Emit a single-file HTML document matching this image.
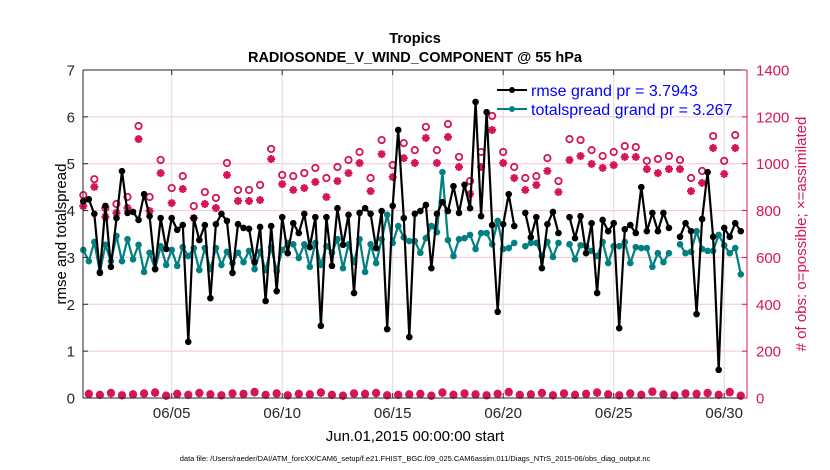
<!DOCTYPE html>
<html><head><meta charset="utf-8"><style>
body{margin:0;background:#fff;}
svg{display:block;font-family:"Liberation Sans",Arial,sans-serif;}
</style></head><body>
<svg id="chart" width="830" height="470" viewBox="0 0 830 470">
<g id="grid"></g>
<g id="series"></g>
<g id="axes"></g>
<text x="415" y="43" text-anchor="middle" font-size="14.5" font-weight="bold">Tropics</text>
<text x="415" y="62" text-anchor="middle" font-size="14.5" font-weight="bold">RADIOSONDE_V_WIND_COMPONENT @ 55 hPa</text>
<text transform="translate(66,234) rotate(-90)" text-anchor="middle" font-size="15">rmse and totalspread</text>
<text transform="translate(806,234) rotate(-90)" text-anchor="middle" font-size="15" fill="#d6145a"># of obs: o=possible; ×=assimilated</text>
<text x="415" y="441" text-anchor="middle" font-size="15">Jun.01,2015 00:00:00 start</text>
<text x="415" y="461" text-anchor="middle" font-size="7.5">data file: /Users/raeder/DAI/ATM_forcXX/CAM6_setup/f.e21.FHIST_BGC.f09_025.CAM6assim.011/Diags_NTrS_2015-06/obs_diag_output.nc</text>
<g>
<line x1="497" y1="90" x2="527" y2="90" stroke="#000" stroke-width="2"/><circle cx="512" cy="90" r="3" fill="#000"/>
<text x="531" y="96" font-size="16" fill="#0000ff">rmse grand pr = 3.7943</text>
<line x1="497" y1="109" x2="527" y2="109" stroke="#008080" stroke-width="2"/><circle cx="512" cy="109" r="3" fill="#008080"/>
<text x="531" y="115" font-size="16" fill="#0000ff">totalspread grand pr = 3.267</text>
</g>
</svg>
<script>
const rmse=[4.2,4.24,3.93,2.67,4.10,2.80,3.84,4.84,3.95,3.97,3.80,4.35,3.88,2.75,3.84,3.18,3.84,3.59,3.69,1.20,3.84,3.37,3.69,2.13,3.71,3.93,3.78,2.67,3.71,3.63,3.61,
2.90,3.65,2.07,3.67,2.28,3.86,3.09,3.73,3.52,3.93,3.22,3.86,1.54,3.86,2.82,4.05,3.27,3.91,2.24,3.95,4.05,3.93,3.20,3.99,1.47,4.10,5.72,3.84,1.30,3.93,
3.99,4.12,2.77,3.93,4.18,3.99,4.52,3.95,4.55,4.05,6.32,3.88,6.10,3.69,1.84,3.71,4.35,3.67,null,3.95,3.43,3.86,2.77,3.71,3.97,3.52,null,3.86,3.41,
3.88,3.09,3.73,2.24,3.80,3.56,3.73,1.49,3.60,3.69,3.52,4.50,3.56,3.95,3.56,3.95,3.63,null,3.44,3.73,3.56,1.79,3.82,4.82,3.44,0.60,3.63,3.44,3.73,3.56];
const spread=[3.16,2.92,3.33,2.69,3.27,2.92,3.46,2.92,3.39,2.96,3.27,2.69,3.10,2.75,3.24,2.84,3.16,2.82,3.22,3.03,3.20,2.73,3.20,2.75,3.20,2.84,3.12,2.88,3.10,2.90,3.14,
2.75,3.12,2.73,3.22,2.71,3.16,3.31,3.28,2.99,3.28,2.80,3.31,2.84,3.24,3.10,3.39,2.77,3.28,2.90,3.39,2.69,3.28,2.88,3.39,3.91,3.31,3.67,3.43,3.35,3.35,
3.10,3.41,3.67,3.54,4.82,3.37,3.03,3.39,3.41,3.48,3.18,3.52,3.52,3.28,3.78,3.18,3.20,3.31,null,3.24,3.31,3.31,3.03,3.33,3.01,3.31,null,3.28,2.96,
3.26,3.24,3.14,3.03,3.33,2.88,3.24,3.24,3.33,2.88,3.22,3.20,3.20,2.80,3.09,2.90,3.09,null,3.28,3.09,3.12,3.56,3.18,3.14,3.14,3.48,3.26,3.09,3.20,2.64];
const possibleMain=[866,934,811,828,858,1161,858,1016,896,947,819,879,854,1003,888,888,
909,1063,952,947,960,982,939,986,1016,1050,939,1101,994,1088,1058,
1157,1058,1169,1029,926,1050,1204,1050,986,939,947,1024,926,1105,
1101,1058,1033,1050,1075,1071,1012,1020,1033,1016,939,969,1118,1012,1122];
const assimMain=[819,901,773,790,811,1105,798,960,832,892,768,828,811,952,841,841,
845,1020,913,888,896,922,858,926,960,1003,883,1041,943,1024,1003,
1110,1003,1114,986,871,986,1144,1003,939,888,909,969,879,1016,
1033,999,982,994,1029,1029,977,960,977,977,883,918,1067,956,1067];
const countLow=[18,14,22,12,16,20,24,10,18,14,22,16,12,20,18,26,14,20,12,18,16,24,14,10,20,18,22,12,14,16,
18,10,24,14,20,16,12,18,26,14,16,22,12,20,14,18,24,16,12,20,14,28,16,12,20,18,22,14,26,10];
const leftTicks=[0,1,2,3,4,5,6,7];
const rightTicks=[0,200,400,600,800,1000,1200,1400];
const dateTicks=[5,10,15,20,25,30];
const dateLabels=["06/05","06/10","06/15","06/20","06/25","06/30"];

const L=83,R=747,T=70,B=398;
const xDay=d=>83.3+(d-1)*22.1;
const xIdx=i=>xDay(1+i*0.25);
const yL=v=>B-(v/7)*(B-T);
const yR=v=>B-(v/1400)*(B-T);
const NS="http://www.w3.org/2000/svg";
function mk(tag,attrs,parent){const e=document.createElementNS(NS,tag);for(const k in attrs)e.setAttribute(k,attrs[k]);parent.appendChild(e);return e;}
const grid=document.getElementById('grid'),ser=document.getElementById('series'),ax=document.getElementById('axes');

rightTicks.forEach(v=>{if(v>0&&v<1400){const g=mk('line',{x1:L,x2:R,y1:yR(v),y2:yR(v),stroke:'#f2c6d6','stroke-width':1},grid);

}});
dateTicks.forEach((d,i)=>{const g=mk('line',{x1:xDay(d),x2:xDay(d),y1:T,y2:B,stroke:'#dcdcdc','stroke-width':1},grid);


const t=mk('text',{x:xDay(d),y:418,'text-anchor':'middle','font-size':15,fill:'#262626'},ax);t.textContent=dateLabels[i];


mk('line',{x1:xDay(d),x2:xDay(d),y1:B,y2:B-5,stroke:'#262626'},ax);
mk('line',{x1:xDay(d),x2:xDay(d),y1:T,y2:T+5,stroke:'#262626'},ax);});

// obs markers
function circle(x,y,name){const c=mk('circle',{cx:x,cy:y,r:3.2,fill:'none',stroke:'#d6145a','stroke-width':1.8},ser);

}
function star(x,y,name){const g=mk('g',{stroke:'#d6145a','stroke-width':2.2},ser);


for(let a=0;a<4;a++){const an=a*Math.PI/4;mk('line',{x1:x-4*Math.cos(an),y1:y-4*Math.sin(an),x2:x+4*Math.cos(an),y2:y+4*Math.sin(an)},g);}}
possibleMain.forEach((v,k)=>circle(xIdx(2*k),yR(v),'obs-possible-point'));
assimMain.forEach((v,k)=>star(xIdx(2*k),yR(v),'obs-assimilated-point'));
countLow.forEach((v,k)=>{circle(xIdx(2*k+1),yR(v),'obs-possible-point');star(xIdx(2*k+1),yR(v*0.9),'obs-assimilated-point');});

function lineSeries(arr,color,name){let d='',pen=false;
arr.forEach((v,i)=>{if(v===null){pen=false;return;}d+=(pen?'L':'M')+xIdx(i).toFixed(1)+','+yL(v).toFixed(1);pen=true;});
const p=mk('path',{d:d,fill:'none',stroke:color,'stroke-width':2.2,'stroke-linejoin':'round'},ser);


arr.forEach((v,i)=>{if(v===null)return;const c=mk('circle',{cx:xIdx(i),cy:yL(v),r:3.3,fill:color},ser);

});}
lineSeries(spread,'#008080','totalspread');
lineSeries(rmse,'#000000','rmse');

// axes
mk('line',{x1:L,x2:L,y1:T,y2:B,stroke:'#262626'},ax);
mk('line',{x1:L,x2:R,y1:B,y2:B,stroke:'#262626'},ax);
mk('line',{x1:L,x2:R,y1:T,y2:T,stroke:'#262626'},ax);
mk('line',{x1:R,x2:R,y1:T,y2:B,stroke:'#d6145a'},ax);
leftTicks.forEach(v=>{mk('line',{x1:L,x2:L+5,y1:yL(v),y2:yL(v),stroke:'#262626'},ax);
const t=mk('text',{x:L-8,y:yL(v)+5.5,'text-anchor':'end','font-size':15,fill:'#262626'},ax);t.textContent=v;

});
rightTicks.forEach(v=>{mk('line',{x1:R,x2:R-5,y1:yR(v),y2:yR(v),stroke:'#d6145a'},ax);
const t=mk('text',{x:R+9,y:yR(v)+5.5,'font-size':15,fill:'#d6145a'},ax);t.textContent=v;

});
</script>
</body></html>
